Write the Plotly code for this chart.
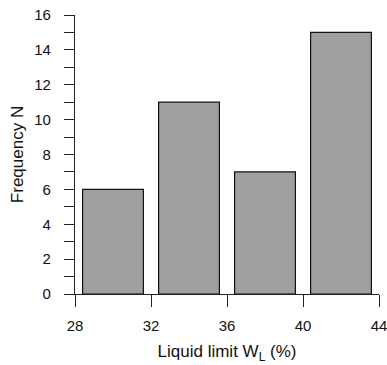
import plotly.graph_objects as go

# Liquid limit histogram: class centres (%), class width and counts
bin_centers = [30, 34, 38, 42]
bin_width = 4
frequency = [6, 11, 7, 15]

x_ticks = [28, 32, 36, 40, 44]
y_ticks = [0, 2, 4, 6, 8, 10, 12, 14, 16]

axis_color = "#222222"
font_family = "Liberation Sans, Arial, sans-serif"

fig = go.Figure(
    go.Bar(
        x=bin_centers,
        y=frequency,
        width=[bin_width * 0.8] * len(bin_centers),
        marker=dict(color="#a0a0a0", line=dict(color="#111111", width=1.2)),
    )
)

fig.update_layout(
    width=387,
    height=365,
    margin=dict(l=75, r=8, t=15, b=71),
    paper_bgcolor="white",
    plot_bgcolor="white",
    showlegend=False,
    font=dict(family=font_family, size=15, color="#111111"),
)

fig.update_xaxes(
    range=[28, 44],
    tickvals=x_ticks,
    ticks="outside",
    ticklen=12,
    tickwidth=1.2,
    tickcolor=axis_color,
    ticklabelstandoff=6,
    ticklabeloverflow="allow",
    automargin=False,
    showline=True,
    linecolor=axis_color,
    linewidth=1.2,
    showgrid=False,
    zeroline=False,
    tickfont=dict(size=15),
    title=dict(text="Liquid limit W<sub>L</sub> (%)", font=dict(size=17), standoff=12),
)

fig.update_yaxes(
    range=[0, 16],
    tickvals=y_ticks,
    ticks="outside",
    ticklen=10,
    tickwidth=1.2,
    tickcolor=axis_color,
    ticklabelstandoff=10,
    ticklabeloverflow="allow",
    automargin=False,
    minor=dict(dtick=1, ticks="outside", ticklen=10, tickwidth=1.2, tickcolor=axis_color, showgrid=False),
    showline=True,
    linecolor=axis_color,
    linewidth=1.2,
    showgrid=False,
    zeroline=False,
    tickfont=dict(size=15),
    title=dict(text="Frequency N", font=dict(size=17), standoff=6),
)

fig.write_html("out.html")
